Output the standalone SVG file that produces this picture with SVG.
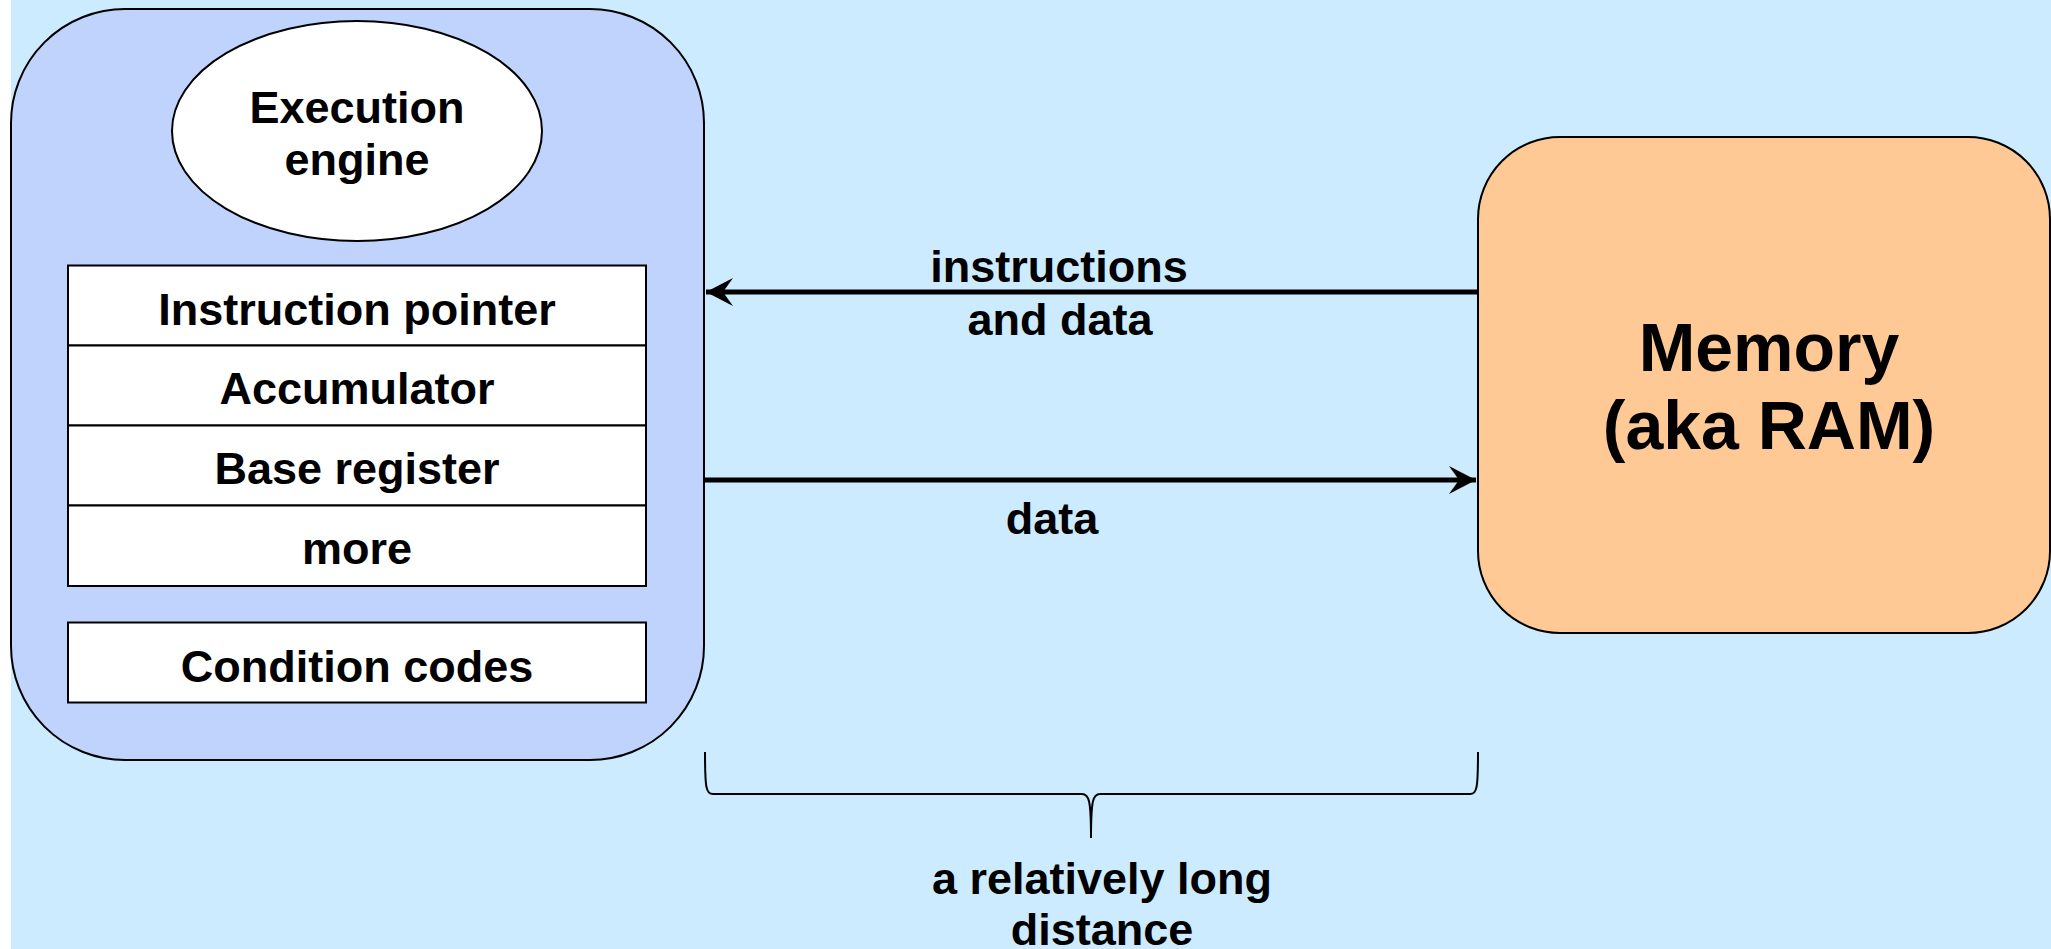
<svg xmlns="http://www.w3.org/2000/svg" width="2051" height="949" viewBox="0 0 2051 949">
<defs>
<style>
text{font-family:"Liberation Sans",Arial,sans-serif;font-weight:bold;fill:#000;text-anchor:middle}
.t45{font-size:45px}
.t68{font-size:68px}
.box{stroke:#000;stroke-width:2}
.reg{fill:#fff;stroke:#000;stroke-width:2}
.wire{stroke:#000;stroke-width:5;fill:none}
</style>
<marker id="ah" markerUnits="userSpaceOnUse" markerWidth="40" markerHeight="40" viewBox="-30 -20 40 40" refX="0" refY="0" orient="auto">
<path d="M0,0 L-27,-14 L-17,0 L-27,14 Z" fill="#000"/>
</marker>
</defs>
<rect x="0" y="0" width="2051" height="949" fill="#fff"/>
<rect x="11" y="0" width="2040" height="949" fill="#CCEBFF"/>
<g id="cpu">
<rect class="box" x="11" y="9" width="693" height="751" rx="114" ry="114" fill="#BFD3FC"/>
</g>
<g id="engine">
<ellipse cx="357" cy="131" rx="185" ry="110" fill="#fff" stroke="#000" stroke-width="2"/>
<text class="t45" x="357" y="123">Execution</text>
<text class="t45" x="357" y="175">engine</text>
</g>
<g id="reg-ip">
<rect class="reg" x="68" y="265.5" width="578" height="80"/>
<text class="t45" x="357" y="325">Instruction pointer</text>
</g>
<g id="reg-acc">
<rect class="reg" x="68" y="345.5" width="578" height="80"/>
<text class="t45" x="357" y="404">Accumulator</text>
</g>
<g id="reg-base">
<rect class="reg" x="68" y="425.5" width="578" height="80"/>
<text class="t45" x="357" y="484">Base register</text>
</g>
<g id="reg-more">
<rect class="reg" x="68" y="505.5" width="578" height="80.5"/>
<text class="t45" x="357" y="564">more</text>
</g>
<g id="cond">
<rect class="reg" x="68" y="622.5" width="578" height="80"/>
<text class="t45" x="357" y="682">Condition codes</text>
</g>
<g id="memory">
<rect class="box" x="1478" y="137" width="572" height="496" rx="82" ry="82" fill="#FFC996" stroke-width="2.5"/>
<text class="t68" x="1769" y="371">Memory</text>
<text class="t68" x="1769" y="449">(aka RAM)</text>
</g>
<g id="connectors">
<line class="wire" x1="1478" y1="292" x2="706" y2="292" marker-end="url(#ah)"/>
<line class="wire" x1="704" y1="480" x2="1476" y2="480" marker-end="url(#ah)"/>
<path d="M705,752 C705,788 706,794 713,794 L1082,794 C1089,794 1091,800 1091,838 C1091,800 1093,794 1100,794 L1470,794 C1477,794 1478,788 1478,752" fill="none" stroke="#000" stroke-width="2"/>
</g>
<g id="labels">
<text class="t45" x="1059" y="282">instructions</text>
<text class="t45" x="1060" y="335">and data</text>
<text class="t45" x="1052" y="534">data</text>
<text class="t45" x="1102" y="894">a relatively long</text>
<text class="t45" x="1102" y="945">distance</text>
</g>
</svg>
